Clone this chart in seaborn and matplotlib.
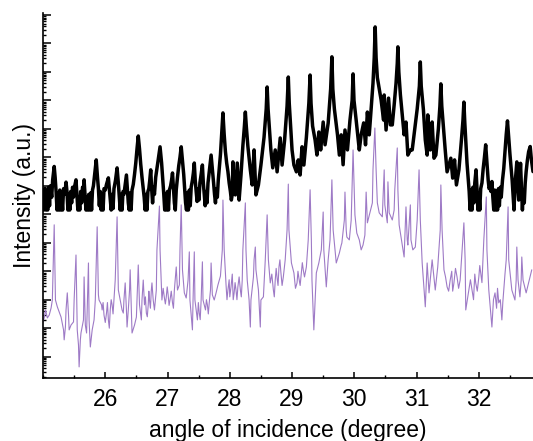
import numpy as np
import pandas as pd
import matplotlib
matplotlib.use("Agg")
import matplotlib.pyplot as plt
import matplotlib.ticker as mticker
import seaborn as sns

# upper trace (black): angle in degrees, log10 of intensity
black_angle = [24.99, 25.01, 25.03, 25.045, 25.06, 25.075, 25.09, 25.105, 25.12, 25.14,
               25.155, 25.17, 25.18, 25.195, 25.21, 25.225, 25.24, 25.255, 25.27, 25.285,
               25.30, 25.315, 25.33, 25.35, 25.37, 25.385, 25.40, 25.415, 25.43, 25.445,
               25.46, 25.475, 25.49, 25.51, 25.53, 25.545, 25.56, 25.575, 25.59, 25.605,
               25.62, 25.635, 25.65, 25.66, 25.675, 25.69, 25.705, 25.72, 25.735, 25.75,
               25.765, 25.78, 25.795, 25.81, 25.83, 25.855, 25.875, 25.89, 25.905, 25.92,
               25.935, 25.95, 25.965, 25.98, 26.00, 26.02, 26.05, 26.065, 26.08, 26.095,
               26.11, 26.125, 26.14, 26.165, 26.19, 26.21, 26.225, 26.24, 26.255, 26.27,
               26.285, 26.30, 26.32, 26.34, 26.355, 26.37, 26.385, 26.40, 26.415, 26.43,
               26.45, 26.47, 26.49, 26.51, 26.53, 26.55, 26.57, 26.59, 26.61, 26.625,
               26.64, 26.655, 26.67, 26.685, 26.70, 26.715, 26.73, 26.745, 26.76, 26.775,
               26.79, 26.81, 26.83, 26.855, 26.88, 26.905, 26.925, 26.94, 26.955, 26.97,
               26.985, 27.00, 27.015, 27.03, 27.05, 27.065, 27.08, 27.095, 27.11, 27.125,
               27.14, 27.16, 27.18, 27.20, 27.22, 27.24, 27.26, 27.275, 27.29, 27.305,
               27.32, 27.335, 27.35, 27.365, 27.38, 27.40, 27.415, 27.43, 27.445, 27.46,
               27.475, 27.49, 27.505, 27.52, 27.54, 27.56, 27.575, 27.59, 27.605, 27.62,
               27.635, 27.65, 27.67, 27.70, 27.72, 27.74, 27.755, 27.77, 27.785, 27.80,
               27.815, 27.83, 27.85, 27.87, 27.89, 27.91, 27.93, 27.95, 27.97, 27.99,
               28.01, 28.025, 28.04,
               28.05, 28.07, 28.09, 28.12, 28.15, 28.18, 28.21, 28.235, 28.25, 28.265,
               28.29, 28.33, 28.36, 28.39, 28.42, 28.46, 28.50, 28.55, 28.585, 28.60,
               28.615, 28.64, 28.66, 28.69, 28.73, 28.76, 28.81, 28.84, 28.88, 28.92,
               28.94, 28.955, 28.98, 29.00, 29.03, 29.07, 29.10, 29.13, 29.16, 29.19,
               29.23, 29.27, 29.29, 29.305, 29.33, 29.37, 29.40, 29.43, 29.46, 29.50,
               29.53, 29.58, 29.62, 29.64, 29.655, 29.68, 29.73, 29.76, 29.79, 29.82,
               29.85, 29.89, 29.93, 29.965, 29.98, 29.995, 30.03, 30.08, 30.11, 30.15,
               30.18, 30.21, 30.24, 30.27, 30.30, 30.32, 30.335, 30.35, 30.37, 30.40,
               30.43, 30.47, 30.48, 30.51, 30.55, 30.58, 30.61, 30.64, 30.67, 30.69,
               30.70, 30.715, 30.74, 30.77, 30.80, 30.83, 30.86, 30.90, 30.93, 30.96,
               31.01, 31.045, 31.06, 31.075, 31.11, 31.14, 31.17, 31.18, 31.22, 31.25,
               31.28, 31.31, 31.35, 31.375, 31.39, 31.405, 31.43, 31.46, 31.49, 31.52,
               31.55, 31.58, 31.61, 31.64, 31.68, 31.72, 31.745, 31.76, 31.775,
               31.79, 31.81, 31.83, 31.845, 31.86, 31.875, 31.89, 31.905, 31.92, 31.935,
               31.955, 31.97, 31.985, 32.00, 32.015, 32.03, 32.05, 32.07, 32.09, 32.11,
               32.13, 32.15, 32.165, 32.18, 32.195, 32.21, 32.225, 32.24, 32.255, 32.27,
               32.285, 32.30, 32.315, 32.33, 32.345, 32.36, 32.38, 32.40, 32.42, 32.44,
               32.46, 32.48, 32.50, 32.52, 32.535, 32.55, 32.565, 32.58, 32.595, 32.61,
               32.625, 32.64, 32.655, 32.67, 32.685, 32.70, 32.715, 32.73, 32.745, 32.76,
               32.78, 32.80, 32.825, 32.845, 32.87]
black_logI = [6.80, 6.15, 6.90, 6.15, 6.70, 6.15, 6.95, 6.30, 7.00, 6.60,
              7.20, 7.50, 7.68, 7.30, 6.80, 6.15, 6.75, 6.15, 6.85, 6.15,
              6.60, 6.15, 6.90, 6.70, 7.13, 6.80, 6.15, 6.70, 6.15, 6.80,
              6.40, 6.95, 6.60, 7.00, 7.21, 6.70, 6.15, 6.60, 6.15, 6.80,
              6.40, 6.95, 6.90, 7.21, 6.70, 6.15, 6.60, 6.15, 6.70, 6.15,
              6.75, 6.15, 6.85, 7.00, 7.40, 7.91, 7.30, 6.90, 6.30, 6.80,
              6.15, 6.70, 6.15, 6.90, 6.85, 7.05, 7.28, 6.90, 6.50, 6.15,
              6.70, 6.20, 6.90, 7.20, 7.63, 7.10, 6.60, 6.15, 6.70, 6.15,
              6.80, 6.70, 7.05, 7.38, 6.90, 6.40, 6.15, 6.75, 6.15, 6.85,
              7.05, 7.40, 7.80, 8.30, 8.75, 8.30, 7.75, 7.30, 6.90, 6.60,
              6.15, 6.70, 6.15, 6.80, 6.90, 7.20, 7.56, 6.90, 6.40, 6.95,
              6.70, 7.30, 7.60, 8.00, 8.37, 7.80, 7.20, 6.70, 6.15, 6.70,
              6.15, 6.80, 6.15, 6.85, 7.00, 7.20, 7.45, 6.90, 6.40, 6.15,
              6.85, 7.30, 7.70, 8.00, 8.37, 7.90, 7.40, 6.90, 6.40, 6.15,
              6.75, 6.15, 6.85, 6.30, 6.95, 7.20, 7.45, 7.80, 7.20, 6.80,
              6.45, 6.90, 6.50, 7.10, 7.40, 7.73, 7.10, 6.70, 6.30, 6.80,
              6.40, 7.10, 7.50, 8.08, 7.60, 7.10, 6.70, 6.40, 6.90, 6.60,
              7.20, 7.60, 8.10, 8.80, 9.56, 8.80, 8.20, 7.80, 7.50, 7.10,
              6.80, 6.50, 6.70,
              7.84, 7.00, 6.68, 7.80, 6.50, 7.38, 8.40, 9.10, 9.59, 9.10,
              8.40, 7.56, 7.03, 8.26, 6.68, 7.03, 7.73, 8.70, 9.70, 10.47,
              9.70, 8.90, 8.26, 7.63, 8.26, 7.49, 8.68, 7.73, 8.60, 9.80,
              10.82, 9.90, 9.00, 8.26, 7.73, 7.49, 7.91, 7.38, 8.37, 7.73,
              8.70, 9.90, 10.89, 9.90, 9.10, 8.61, 8.08, 8.89, 8.26, 9.24,
              8.44, 9.20, 10.40, 11.53, 10.40, 9.70, 8.79, 8.08, 8.79, 7.74,
              8.96, 8.26, 9.30, 10.00, 10.93, 10.00, 9.30, 8.26, 8.79, 9.21,
              8.44, 9.59, 8.79, 9.70, 10.60, 11.50, 12.58, 11.50, 10.80, 10.40,
              10.02, 9.31, 10.19, 8.96, 10.08, 9.14, 9.14, 9.84, 10.60, 11.30,
              11.88, 11.00, 10.20, 9.49, 8.79, 9.24, 8.08, 8.26, 8.26, 8.79,
              9.70, 10.50, 11.35, 10.50, 9.67, 8.61, 8.08, 9.49, 8.26, 9.24,
              7.97, 8.08, 9.00, 9.80, 10.58, 9.80, 9.10, 8.26, 7.49, 7.73,
              7.97, 7.27, 7.91, 7.03, 7.56, 8.60, 9.30, 9.94, 9.20,
              8.60, 7.80, 7.20, 6.80, 6.15, 6.85, 6.15, 6.95, 6.40, 7.10,
              7.56, 6.90, 6.15, 6.75, 6.15, 6.90, 7.10, 7.60, 8.00, 8.44,
              7.80, 7.20, 6.90, 7.00, 6.80, 7.15, 6.60, 6.15, 6.85, 6.15,
              6.80, 6.15, 6.90, 6.30, 6.95, 6.60, 7.20, 7.60, 8.20, 8.80,
              9.28, 8.70, 8.10, 7.60, 7.20, 6.70, 6.15, 7.00, 7.40, 7.84,
              7.00, 6.50, 7.20, 7.79, 6.90, 6.15, 6.80, 6.40, 7.10, 7.50,
              7.90, 8.20, 8.38, 7.90, 7.50]

# lower trace (purple)
purple_angle = [24.99, 25.02, 25.04, 25.07, 25.10, 25.13, 25.15, 25.18, 25.20, 25.23,
                25.26, 25.29, 25.33, 25.34, 25.36, 25.37, 25.39, 25.41, 25.42, 25.45,
                25.49, 25.50, 25.53, 25.55, 25.57, 25.58, 25.60, 25.61, 25.65, 25.66,
                25.68, 25.70, 25.71, 25.73, 25.74, 25.76, 25.79, 25.82, 25.84, 25.87,
                25.89, 25.90, 25.94, 25.95, 25.98, 26.02, 26.05, 26.08, 26.11, 26.14,
                26.16, 26.19, 26.21, 26.24, 26.27, 26.29, 26.30, 26.32, 26.34, 26.35,
                26.37, 26.39, 26.40, 26.42, 26.43, 26.47, 26.50, 26.51, 26.53, 26.55,
                26.58, 26.59, 26.61, 26.63, 26.66, 26.69, 26.71, 26.74, 26.75, 26.77,
                26.79, 26.82, 26.83, 26.87, 26.88, 26.90, 26.91, 26.95, 26.98, 27.01,
                27.04, 27.08, 27.11, 27.14, 27.16, 27.19, 27.20, 27.22, 27.24, 27.27,
                27.30, 27.33, 27.35, 27.36, 27.40, 27.41, 27.43, 27.44, 27.48, 27.51,
                27.54, 27.56, 27.57, 27.61, 27.64, 27.67, 27.69, 27.70, 27.72, 27.75,
                27.78, 27.81, 27.85, 27.88, 27.89, 27.91, 27.94, 27.97, 28.02, 28.07,
                28.10, 28.13, 28.17, 28.20, 28.21, 28.25, 28.26, 28.28, 28.31, 28.33,
                28.34, 28.38, 28.39, 28.41, 28.42, 28.46, 28.49, 28.50, 28.54, 28.57,
                28.60, 28.62, 28.65, 28.70, 28.73, 28.76, 28.79, 28.82, 28.86, 28.89,
                28.92, 28.94, 28.95, 28.99, 29.03, 29.08, 29.11, 29.15, 29.18, 29.23,
                29.26, 29.29, 29.31, 29.32, 29.35, 29.39, 29.43, 29.47, 29.50, 29.51,
                29.55, 29.58, 29.61, 29.64, 29.66, 29.71, 29.76, 29.79, 29.80, 29.84,
                29.85, 29.87, 29.88, 29.92, 29.95, 29.98, 30.01, 30.04, 30.08, 30.11,
                30.14, 30.17, 30.19, 30.21, 30.25, 30.29, 30.30, 30.33, 30.35, 30.37,
                30.40, 30.45, 30.46, 30.48, 30.49, 30.53, 30.54, 30.56, 30.61, 30.64,
                30.65, 30.69, 30.70, 30.72, 30.75, 30.78, 30.80, 30.83, 30.85, 30.86,
                30.90, 30.91, 30.94, 30.98, 31.01, 31.04, 31.06, 31.09, 31.14, 31.17,
                31.20, 31.25, 31.30, 31.34, 31.38, 31.39, 31.41, 31.44, 31.49, 31.54,
                31.60, 31.65, 31.70, 31.73, 31.76, 31.78, 31.79, 31.84, 31.89, 31.95,
                32.00, 32.03, 32.08, 32.12, 32.13, 32.16, 32.21, 32.26, 32.32, 32.37,
                32.40, 32.44, 32.47, 32.48, 32.53, 32.58, 32.60, 32.61, 32.63, 32.66,
                32.68, 32.69, 32.71, 32.76, 32.81, 32.85]
purple_logI = [2.18, 2.36, 2.64, 2.36, 2.46, 2.71, 2.99, 5.63, 2.99, 2.75,
               2.57, 2.39, 1.94, 1.59, 2.04, 2.64, 3.24, 2.46, 1.94, 2.11,
               2.22, 2.99, 4.57, 1.94, 1.41, 0.64, 1.59, 1.83, 2.29, 3.80,
               2.11, 1.83, 2.64, 4.29, 2.29, 1.34, 1.94, 2.29, 2.99, 5.56,
               3.17, 2.99, 2.82, 2.64, 2.46, 2.53, 2.29, 2.64, 2.82, 2.99,
               3.69, 5.91, 3.34, 2.99, 2.64, 2.53, 2.99, 3.59, 2.64, 2.04,
               2.64, 3.34, 4.05, 2.64, 1.83, 2.11, 2.39, 2.99, 4.22, 2.82,
               2.29, 2.99, 3.69, 2.82, 2.53, 2.82, 2.99, 3.34, 3.59, 2.99,
               2.64, 3.34, 4.75, 6.29, 4.75, 3.52, 2.99, 3.06, 3.10, 3.17,
               2.99, 2.89, 3.34, 4.15, 3.34, 3.52, 4.75, 6.33, 4.05, 3.24,
               3.06, 3.69, 4.68, 2.99, 1.94, 2.99, 4.68, 2.99, 2.29, 2.53,
               2.99, 4.33, 2.99, 2.64, 2.82, 2.89, 3.34, 4.29, 3.17, 2.99,
               3.24, 3.52, 3.83, 4.75, 6.50, 4.75, 3.52, 3.34, 3.45, 3.24,
               3.34, 3.45, 3.34, 3.69, 4.75, 6.40, 4.75, 3.69, 2.99, 2.04,
               2.99, 3.80, 4.40, 4.85, 4.05, 3.34, 2.04, 2.99, 3.10, 4.40,
               5.98, 4.40, 3.59, 3.34, 3.69, 3.76, 4.15, 3.98, 3.80, 4.40,
               5.45, 7.06, 5.45, 4.29, 3.94, 3.59, 3.76, 3.94, 4.05, 4.15,
               5.10, 6.86, 5.10, 3.69, 1.94, 3.94, 4.29, 4.75, 6.08, 4.75,
               3.45, 4.40, 5.10, 7.21, 5.45, 4.29, 4.64, 4.92, 4.99, 5.80,
               6.78, 5.45, 5.20, 5.10, 5.80, 8.26, 5.98, 5.34, 5.10, 4.75,
               4.92, 5.27, 6.78, 5.70, 6.05, 6.40, 7.56, 9.03, 7.56, 6.40,
               6.05, 5.91, 6.50, 7.56, 6.33, 5.70, 7.14, 6.05, 5.80, 6.15,
               6.86, 8.33, 6.86, 5.63, 5.20, 4.75, 4.50, 6.26, 5.10, 4.92,
               6.33, 5.10, 4.75, 4.85, 5.80, 7.56, 5.80, 4.29, 2.75, 4.29,
               3.24, 4.40, 3.34, 4.15, 5.45, 7.03, 5.45, 4.05, 3.45, 3.69,
               3.59, 3.80, 3.69, 4.75, 5.70, 4.40, 2.64, 3.34, 3.34, 3.59,
               3.80, 3.94, 5.10, 6.61, 4.75, 3.34, 2.04, 3.24, 2.89, 2.29,
               3.34, 4.40, 6.26, 4.40, 3.34, 2.99, 3.69, 4.85, 3.69, 3.10,
               3.69, 4.50, 3.69, 3.24, 3.69, 4.05]

# small wiggles of the purple trace between the points above
purple_fine_angle = [25.965, 26.00, 26.035, 26.065, 26.095, 26.125, 26.645, 26.675, 26.70, 26.725,
                     26.93, 26.965, 26.995, 27.025, 27.06, 27.095, 27.495, 27.525, 27.625, 27.655,
                     27.955, 27.99, 28.00, 28.04, 28.055, 28.085, 28.115, 28.15, 28.185, 28.675,
                     28.715, 28.745, 28.775, 28.805, 28.84, 28.875, 29.055, 29.095, 29.13, 29.165,
                     29.20, 31.465, 31.515, 31.565, 31.58, 31.625, 31.675, 31.715, 31.865, 31.915,
                     31.935, 31.975, 32.015, 32.05, 32.235, 32.285, 32.30, 32.345, 32.385, 32.42]
purple_fine_logI = [2.90, 2.20, 2.90, 2.00, 3.00, 2.50, 3.10, 2.40, 3.30, 2.70,
                    3.40, 2.85, 3.45, 2.80, 3.30, 2.70, 2.90, 2.30, 3.00, 2.50,
                    3.00, 3.70, 3.10, 3.90, 3.00, 3.60, 3.00, 3.80, 3.10, 3.90,
                    3.10, 4.10, 3.50, 4.40, 3.50, 4.10, 3.40, 4.00, 3.50, 4.30,
                    3.80, 3.80, 3.30, 4.00, 3.30, 4.10, 3.40, 4.20, 3.70, 3.00,
                    3.90, 3.30, 4.20, 3.60, 3.00, 2.70, 3.40, 3.00, 2.90, 3.90]

x_ticks = [26, 27, 28, 29, 30, 31, 32]

black = pd.DataFrame({"angle": black_angle, "intensity": np.power(10.0, black_logI)})
purple = pd.DataFrame({"angle": purple_angle + purple_fine_angle,
                       "intensity": np.power(10.0, purple_logI + purple_fine_logI)})

sns.set_style("ticks")
plt.rcParams["font.family"] = ["Liberation Sans", "DejaVu Sans"]
plt.rcParams["text.color"] = "black"
plt.rcParams["axes.labelcolor"] = "black"
plt.rcParams["xtick.color"] = "black"
plt.rcParams["ytick.color"] = "black"

fig = plt.figure(figsize=(5.33, 4.41), dpi=100)
ax = fig.add_axes([43 / 533, 63 / 441, 490 / 533, 365.3 / 441])

sns.lineplot(data=purple, x="angle", y="intensity", color="#9e7ac6", lw=0.8,
             estimator=None, sort=True, ax=ax, zorder=2)
sns.lineplot(data=black, x="angle", y="intensity", color="black", lw=2.5,
             estimator=None, sort=True, ax=ax, zorder=3)

ax.set_yscale("log")
ax.set_xlim(25.0, 32.87)
ax.set_ylim(10 ** 0.25, 10 ** 13.08)

ax.yaxis.set_major_locator(mticker.LogLocator(base=10, numticks=30))
ax.yaxis.set_minor_locator(mticker.LogLocator(base=10, subs=np.arange(2, 10), numticks=30))
ax.yaxis.set_major_formatter(mticker.NullFormatter())
ax.yaxis.set_minor_formatter(mticker.NullFormatter())

ax.set_xticks(x_ticks)
ax.xaxis.set_minor_locator(mticker.MultipleLocator(0.5))

ax.tick_params(axis="both", which="major", direction="in", width=1.1, length=4.5,
               labelsize=16.5, pad=7, color="black", labelcolor="black")
ax.tick_params(axis="both", which="minor", direction="in", width=1.0, length=2.5,
               color="black")
ax.tick_params(axis="y", which="major", length=6)

for side in ["top", "right"]:
    ax.spines[side].set_visible(False)
for side in ["left", "bottom"]:
    ax.spines[side].set_linewidth(1.2)
    ax.spines[side].set_color("black")

ax.set_xlabel("angle of incidence (degree)", fontsize=16.5, labelpad=6)
ax.set_ylabel("Intensity (a.u.)", fontsize=16.5, labelpad=-2)

fig.savefig("out.png", dpi=100)
